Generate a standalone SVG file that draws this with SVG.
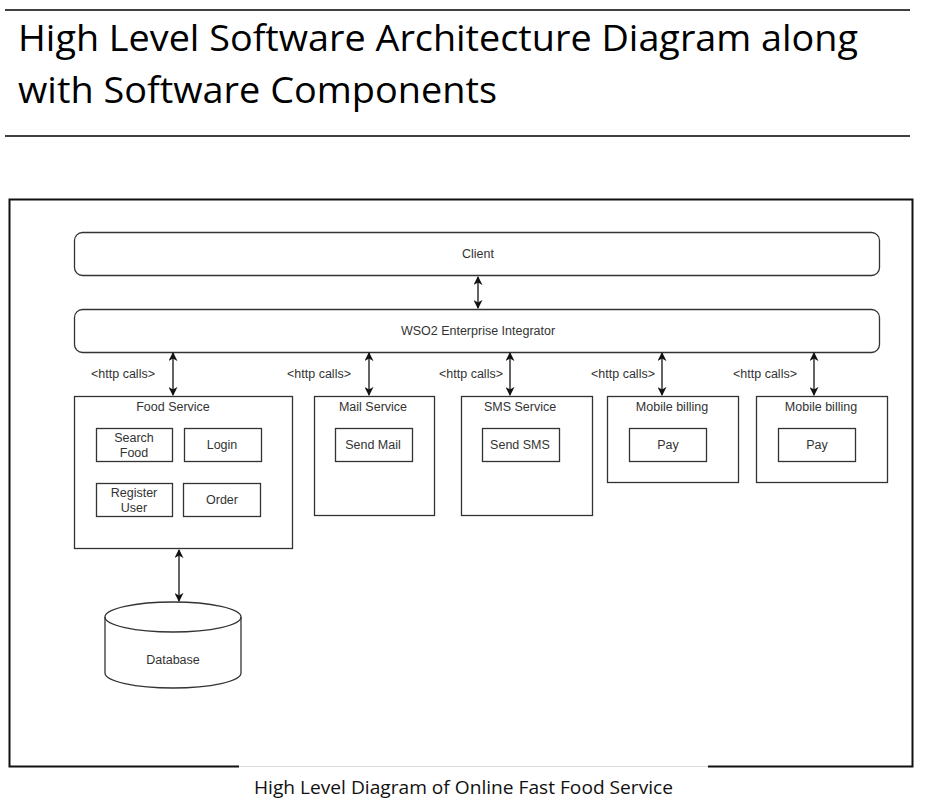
<svg xmlns="http://www.w3.org/2000/svg" width="926" height="809" viewBox="0 0 926 809">
<defs>
<marker id="ah" viewBox="0 0 10 10" refX="9" refY="5" markerWidth="9" markerHeight="9" markerUnits="userSpaceOnUse" orient="auto-start-reverse">
<path d="M0,0 L10,5 L0,10 L3,5 Z" fill="#111"/>
</marker>
</defs>
<style>
.title{font-family:"Open Sans","Lato","DejaVu Sans",sans-serif;font-size:37px;font-weight:500;fill:#000;}
.cap{font-family:"Open Sans","Liberation Sans",sans-serif;font-size:18px;fill:#111;}
.lbl{font-family:"Liberation Sans",Arial,sans-serif;font-size:12.5px;fill:#333;text-anchor:middle;}
.box{fill:#fff;stroke:#333;stroke-width:1.3;}
.conn{stroke:#111;stroke-width:1.3;fill:none;marker-start:url(#ah);marker-end:url(#ah);}
</style>
<rect width="926" height="809" fill="#fff"/>
<line x1="5" y1="10" x2="910" y2="10" stroke="#000" stroke-width="1.5"/>
<text class="title" x="18" y="51" textLength="840" lengthAdjust="spacingAndGlyphs">High Level Software Architecture Diagram along</text>
<text class="title" x="18" y="103" textLength="479" lengthAdjust="spacingAndGlyphs">with Software Components</text>
<line x1="5" y1="136" x2="910" y2="136" stroke="#000" stroke-width="1.5"/>

<g id="frame">
<path d="M239,766.5 L9.5,766.5 L9.5,199.5 L912.5,199.5 L912.5,766.5 L708,766.5" fill="none" stroke="#111" stroke-width="2"/>
<line x1="239" y1="766.5" x2="708" y2="766.5" stroke="#ddd" stroke-width="1.2"/>
</g>

<g id="client">
<rect class="box" x="74.5" y="232.5" width="805" height="43" rx="8"/>
<text class="lbl" x="478" y="258">Client</text>
</g>
<g id="wso2">
<rect class="box" x="74.5" y="309.5" width="805" height="43" rx="8"/>
<text class="lbl" x="478" y="335">WSO2 Enterprise Integrator</text>
</g>

<g id="food-service">
<rect class="box" x="74.5" y="396.5" width="218" height="152"/>
<text class="lbl" x="173" y="411">Food Service</text>
<g id="search-food">
<rect class="box" x="96.5" y="428.5" width="76" height="33"/>
<text class="lbl" x="134" y="442">Search</text>
<text class="lbl" x="134" y="457">Food</text>
</g>
<g id="login">
<rect class="box" x="184.5" y="428.5" width="77" height="33"/>
<text class="lbl" x="222" y="449">Login</text>
</g>
<g id="register-user">
<rect class="box" x="96.5" y="483.5" width="76" height="33"/>
<text class="lbl" x="134" y="497">Register</text>
<text class="lbl" x="134" y="512">User</text>
</g>
<g id="order">
<rect class="box" x="183.5" y="483.5" width="77" height="33"/>
<text class="lbl" x="222" y="504">Order</text>
</g>
</g>

<g id="mail-service">
<rect class="box" x="314.5" y="396.5" width="120" height="119"/>
<text class="lbl" x="373" y="411">Mail Service</text>
<g id="send-mail">
<rect class="box" x="335.5" y="428.5" width="77" height="33"/>
<text class="lbl" x="373" y="449">Send Mail</text>
</g>
</g>

<g id="sms-service">
<rect class="box" x="461.5" y="396.5" width="131" height="119"/>
<text class="lbl" x="520" y="411">SMS Service</text>
<g id="send-sms">
<rect class="box" x="482.5" y="428.5" width="77" height="33"/>
<text class="lbl" x="520" y="449">Send SMS</text>
</g>
</g>

<g id="mobile-billing-1">
<rect class="box" x="607.5" y="396.5" width="131" height="86"/>
<text class="lbl" x="672" y="411">Mobile billing</text>
<g id="pay-1">
<rect class="box" x="629.5" y="428.5" width="77" height="33"/>
<text class="lbl" x="668" y="449">Pay</text>
</g>
</g>

<g id="mobile-billing-2">
<rect class="box" x="756.5" y="396.5" width="131" height="86"/>
<text class="lbl" x="821" y="411">Mobile billing</text>
<g id="pay-2">
<rect class="box" x="778.5" y="428.5" width="77" height="33"/>
<text class="lbl" x="817" y="449">Pay</text>
</g>
</g>

<g id="database">
<path class="box" d="M105,617 A68,15 0 0 1 241,617 L241,673 A68,15 0 0 1 105,673 Z"/>
<path d="M105,617 A68,15 0 0 0 241,617" fill="none" stroke="#333" stroke-width="1.3"/>
<text class="lbl" x="173" y="664">Database</text>
</g>

<g id="connectors">
<line class="conn" x1="478" y1="277" x2="478" y2="308"/>
<line class="conn" x1="173" y1="353" x2="173" y2="395"/>
<line class="conn" x1="369" y1="353" x2="369" y2="395"/>
<line class="conn" x1="510" y1="353" x2="510" y2="395"/>
<line class="conn" x1="662" y1="353" x2="662" y2="395"/>
<line class="conn" x1="814" y1="353" x2="814" y2="395"/>
<line class="conn" x1="179" y1="550" x2="179" y2="601"/>
<text class="lbl" x="123" y="378">&lt;http calls&gt;</text>
<text class="lbl" x="319" y="378">&lt;http calls&gt;</text>
<text class="lbl" x="471" y="378">&lt;http calls&gt;</text>
<text class="lbl" x="623" y="378">&lt;http calls&gt;</text>
<text class="lbl" x="765" y="378">&lt;http calls&gt;</text>
</g>

<text class="cap" x="254" y="794" textLength="419" lengthAdjust="spacingAndGlyphs">High Level Diagram of Online Fast Food Service</text>
</svg>
